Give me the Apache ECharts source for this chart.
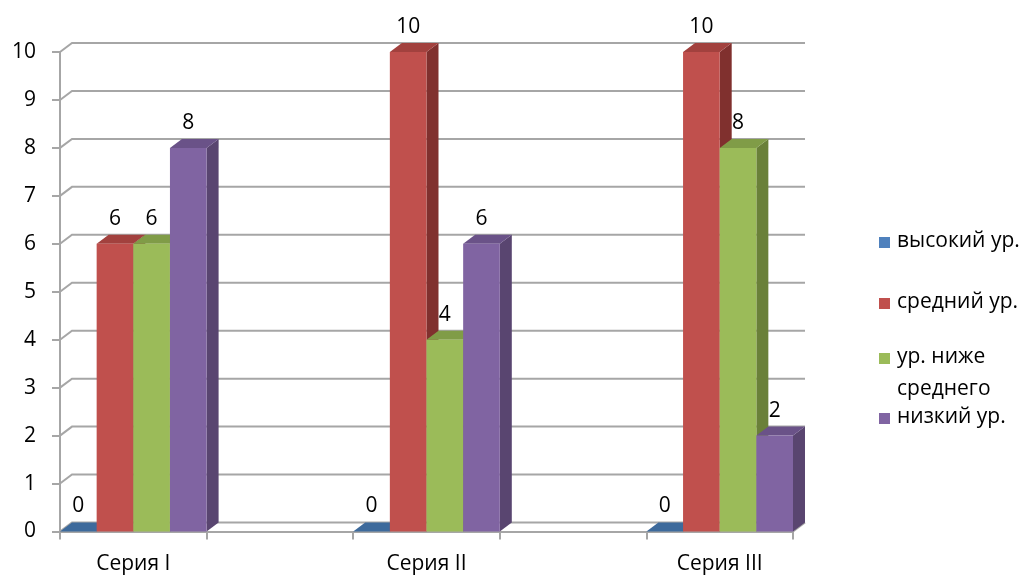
<!DOCTYPE html>
<html>
<head>
<meta charset="utf-8">
<script src="https://cdn.jsdelivr.net/npm/echarts@6/dist/echarts.min.js"></script>
<style>
  html, body { margin: 0; padding: 0; background: #fff; }
  #chart { width: 1030px; height: 577px; }
</style>
</head>
<body>
<div id="chart"></div>
<script>
// Categories and values per level
const categories = ['Серия I', 'Серия II', 'Серия III'];
const levelNames = ['высокий ур.', 'средний ур.', 'ур. ниже среднего', 'низкий ур.'];
const highLevel = [0, 0, 0];
const midLevel = [6, 10, 10];
const belowMidLevel = [6, 4, 8];
const lowLevel = [8, 6, 2];
const yTicks = [0, 1, 2, 3, 4, 5, 6, 7, 8, 9, 10];

const seriesValues = [highLevel, midLevel, belowMidLevel, lowLevel];

// Face colours: front, top, side
const palette = [
  { front: '#4F81BD', top: '#3D6A9C', side: '#35577F' },
  { front: '#C0504D', top: '#A2413E', side: '#80302E' },
  { front: '#9BBB59', top: '#809C47', side: '#6A8039' },
  { front: '#8064A2', top: '#6A5288', side: '#594570' }
];

// Depth of the pseudo-3D box
const DX = 12, DY = -9;
const FONT = 'Open Sans';
const FONT_SIZE = 21;
const GRID_COLOR = '#A6A6A6';

// Each category occupies one slot, with an empty slot between neighbours
const slots = [];
categories.forEach((c, i) => { slots.push(c); if (i < categories.length - 1) slots.push(''); });

function barRenderer(level) {
  return function (params, api) {
    const slot = api.value(0);
    const val = api.value(1);
    const base = api.coord([slot, 0]);
    const top = api.coord([slot, val]);
    const bw = api.size([1, 0])[0];
    const n = seriesValues.length;
    const x0 = base[0] - bw / 2 + level * bw / n;
    const x1 = x0 + bw / n;
    const yb = base[1], yt = top[1];
    const col = palette[level];
    const children = [
      { type: 'polygon', shape: { points: [[x1, yt], [x1 + DX, yt + DY], [x1 + DX, yb + DY], [x1, yb]] },
        style: { fill: col.side } },
      { type: 'polygon', shape: { points: [[x0, yt], [x0 + DX, yt + DY], [x1 + DX, yt + DY], [x1, yt]] },
        style: { fill: col.top } }
    ];
    if (yb - yt > 0) {
      children.push({ type: 'rect', shape: { x: x0, y: yt, width: x1 - x0, height: yb - yt },
        style: { fill: col.front } });
    }
    children.push({ type: 'text', z2: 10, style: {
      text: String(val), x: (x0 + x1) / 2, y: yt - 25, align: 'center', verticalAlign: 'middle',
      fontFamily: FONT, fontSize: FONT_SIZE, fill: '#000' } });
    return { type: 'group', children: children };
  };
}

function wallRenderer(params, api) {
  const cs = params.coordSys;
  const y = api.coord([0, api.value(0)])[1];
  const children = [{
    type: 'polyline',
    shape: { points: [[cs.x, y], [cs.x + DX, y + DY], [cs.x + cs.width + DX, y + DY]] },
    style: { stroke: GRID_COLOR, lineWidth: 2, fill: null }
  }];
  if (api.value(0) === 0) {
    children.push({ type: 'line',
      shape: { x1: cs.x + cs.width, y1: y, x2: cs.x + cs.width + DX, y2: y + DY },
      style: { stroke: GRID_COLOR, lineWidth: 2 } });
  }
  return { type: 'group', children: children };
}

const series = [{
  type: 'custom',
  name: 'wall',
  clip: false,
  silent: true,
  z: 1,
  data: yTicks.map(v => [v]),
  encode: { y: 0 },
  renderItem: wallRenderer
}];

seriesValues.forEach((vals, level) => {
  series.push({
    type: 'custom',
    name: levelNames[level],
    clip: false,
    z: 2,
    data: vals.map((v, i) => [i * 2, v]),
    encode: { x: 0, y: 1 },
    renderItem: barRenderer(level)
  });
});

// Legend built from the level names and palette
const legendCenters = [242, 303, 358, 418];
const legendChildren = [];
levelNames.forEach((name, i) => {
  const cy = legendCenters[i];
  legendChildren.push({ type: 'rect', shape: { x: 879, y: cy - 5, width: 11, height: 11 },
    style: { fill: palette[i].front } });
  const text = name === 'ур. ниже среднего' ? 'ур. ниже\nсреднего' : name;
  legendChildren.push({ type: 'text', style: {
    text: text, x: 897, y: cy - 17, verticalAlign: 'top', lineHeight: 32,
    fontFamily: FONT, fontSize: FONT_SIZE, fill: '#000' } });
});

const chart = echarts.init(document.getElementById('chart'), null, { renderer: 'canvas' });
chart.setOption({
  backgroundColor: '#fff',
  animation: false,
  grid: { left: 60, right: 237, top: 52, bottom: 45.5, containLabel: false },
  xAxis: {
    type: 'category',
    data: slots,
    boundaryGap: true,
    axisLine: { show: true, lineStyle: { color: GRID_COLOR, width: 2 } },
    axisTick: { show: true, interval: 0, length: 8, lineStyle: { color: GRID_COLOR, width: 2 } },
    axisLabel: { interval: 0, margin: 22, fontFamily: FONT, fontSize: FONT_SIZE, color: '#000' },
    splitLine: { show: false }
  },
  yAxis: {
    type: 'value',
    min: 0, max: 10, interval: 1,
    axisLine: { show: true, lineStyle: { color: GRID_COLOR, width: 2 } },
    axisTick: { show: true, length: 8, lineStyle: { color: GRID_COLOR, width: 2 } },
    axisLabel: { margin: 24, fontFamily: FONT, fontSize: FONT_SIZE, color: '#000' },
    splitLine: { show: false }
  },
  graphic: [{ type: 'group', children: legendChildren }],
  series: series
});
</script>
</body>
</html>
